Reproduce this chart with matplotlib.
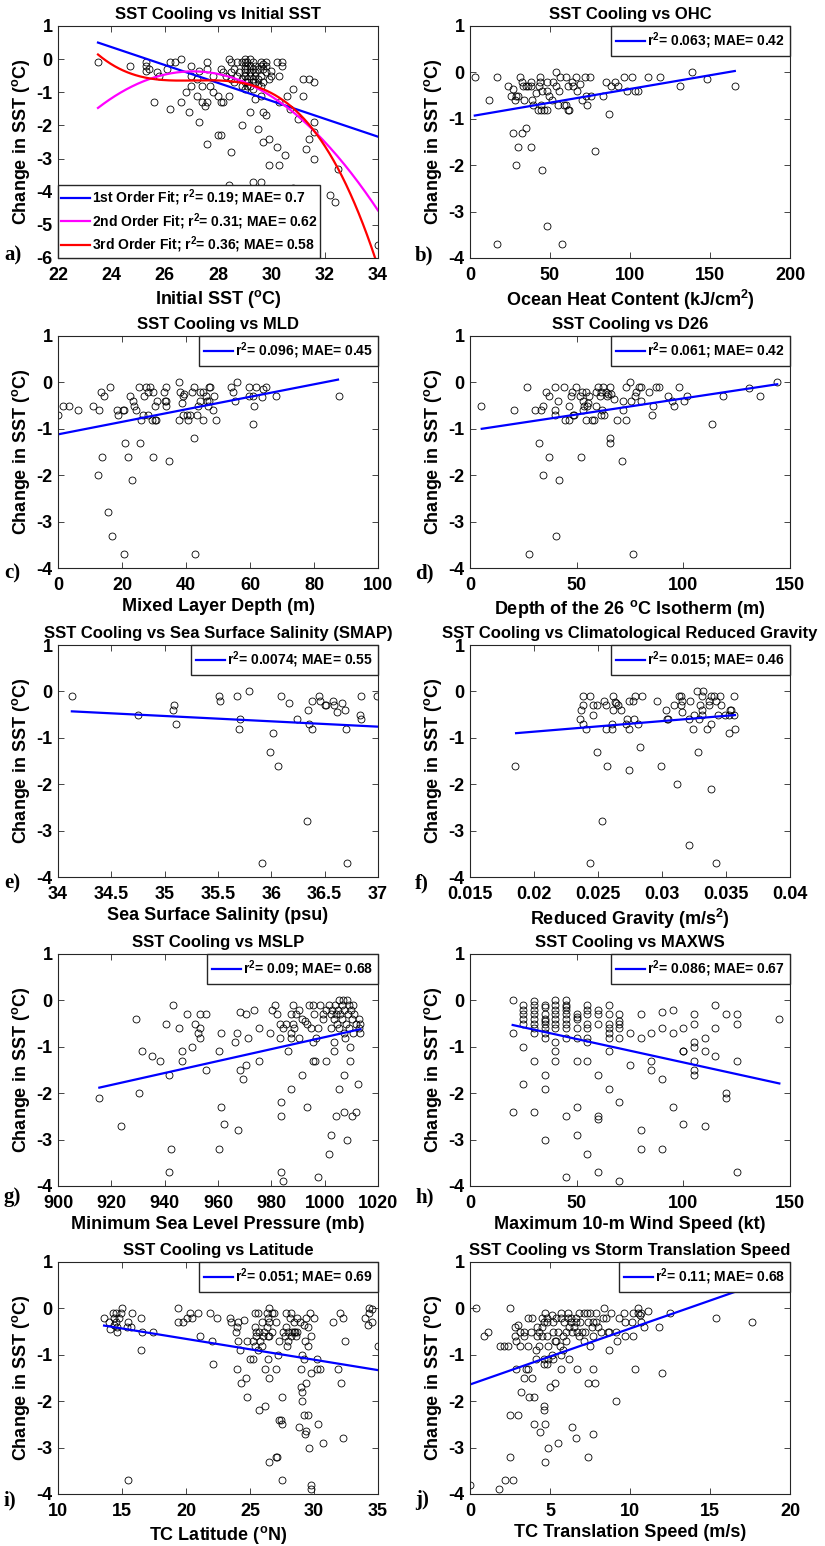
import numpy as np
import matplotlib
matplotlib.use('Agg')
import matplotlib.pyplot as plt
from matplotlib.ticker import StrMethodFormatter

plt.rcParams['font.family'] = 'Liberation Sans'
plt.rcParams['font.weight'] = 'bold'
plt.rcParams['axes.unicode_minus'] = False
plt.rcParams['mathtext.fontset'] = 'custom'
plt.rcParams['mathtext.rm'] = 'Liberation Sans:bold'
plt.rcParams['mathtext.bf'] = 'Liberation Sans:bold'
plt.rcParams['mathtext.default'] = 'bf'

# ---------------- data ----------------
# a) initial SST
a_x = [23.5, 24.7, 25.3, 25.3, 25.3, 25.4, 25.6, 25.7, 25.8, 26.1, 26.2, 26.2, 26.4, 26.6, 26.6, 26.8, 26.9,
       27.0, 27.0, 27.0, 27.2, 27.2, 27.3, 27.3, 27.4, 27.4, 27.5, 27.6, 27.6, 27.6, 27.6, 27.7, 27.8, 27.8,
       28.0, 28.0, 28.1, 28.1, 28.1, 28.2, 28.3, 28.4, 28.4, 28.4, 28.5, 28.5, 28.5, 28.6, 28.7, 28.9, 29.0,
       29.0, 29.0, 29.2, 29.3, 29.4, 29.5, 29.6, 29.6, 29.7, 29.7, 29.8, 29.9, 29.9, 30.0, 30.2, 30.2, 30.3,
       30.3, 30.3, 30.4, 30.4, 30.5, 30.6, 30.7, 30.8, 30.8, 31.0, 31.2, 31.2, 31.3, 31.4, 31.4, 31.6, 31.6,
       31.6, 31.6, 32.2, 32.4, 32.5, 34.0,
       28.2, 28.5, 28.6, 28.7, 28.8, 28.9, 28.9, 29.0, 29.0, 29.0, 29.0, 29.0, 29.1, 29.1, 29.1, 29.1, 29.2,
       29.2, 29.2, 29.2, 29.2, 29.3, 29.3, 29.3, 29.3, 29.3, 29.4, 29.4, 29.4, 29.4, 29.5, 29.5, 29.5, 29.6,
       29.6, 29.6, 29.6, 29.7, 29.7, 29.8, 29.8, 29.9, 29.8, 30.0, 29.7, 28.9, 29.1]
a_y = [-0.1, -0.2, -0.1, -0.2, -0.35, -0.3, -1.3, -0.4, -0.5, -0.3, -1.5, -0.1, -0.1, -1.3, 0.0, -1.0, -1.6,
       -0.5, -0.2, -0.8, -1.1, -0.6, -1.9, -0.35, -0.8, -1.3, -1.4, -2.55, -0.1, -0.3, -1.3, -0.8, -1.0, -0.5,
       -1.1, -2.3, -2.3, -1.3, -0.3, -1.3, -0.5, -3.8, -1.1, 0.0, -0.1, -2.8, -0.6, -0.7, -0.1, -2.0, -0.7,
       -0.1, 0.0, -1.6, -3.7, -1.2, -2.1, -3.7, -1.1, -2.5, -1.6, -1.7, -2.4, -3.2, -0.35, -0.1, -2.65, -0.5,
       -1.3, -3.2, -0.1, -0.2, -2.9, -1.1, -1.5, -0.9, -3.9, -1.8, -0.6, -1.1, -2.7, -2.4, -0.6, -0.7, -1.9,
       -2.2, -3.0, -4.1, -4.3, -3.3, -5.6,
       -0.4, -0.4, -0.3, -0.5, -0.4, -0.6, -0.8, -0.2, -0.3, -0.4, -0.5, -0.9, -0.1, -0.3, -0.6, -0.7, 0.0,
       -0.2, -0.4, -0.5, -0.8, -0.1, -0.3, -0.6, -0.7, -0.9, -0.2, -0.4, -0.5, -0.7, -0.3, -0.6, -0.75, -0.1,
       -0.2, -0.5, -0.8, -0.3, -0.7, -0.1, -0.4, -0.6, -0.2, -0.5, -0.15, -0.1, -0.8]
a_lin_x = [23.5, 34.0]
a_lin_y = [0.5, -2.34]
a_quad_x = [23.5, 25.0, 27.0, 29.0, 31.0, 32.5, 34.0]
a_quad_y = [-1.45, -0.75, -0.44, -0.62, -1.7, -3.0, -4.55]
a_cub_x = [23.5, 24.8, 25.7, 27.3, 28.6, 29.6, 30.3, 31.1, 31.8, 32.6, 33.3, 33.9]
a_cub_y = [0.17, -0.5, -0.62, -0.65, -0.67, -0.8, -1.13, -1.74, -2.45, -3.46, -4.68, -6.0]

# b) OHC
b_x = [3, 12, 17, 17, 23.5, 25.5, 26.6, 27, 28, 29, 29, 30, 30, 31, 32.5, 32.5, 33, 34, 35, 35, 36, 38, 38,
       38, 39, 39.5, 41, 42.5, 43, 43.5, 44, 44.5, 44.5, 45, 45, 46.5, 48, 48, 48, 48, 49.5, 51, 52, 53.5,
       54, 55, 55.5, 56.5, 57.5, 59, 60, 60, 61, 61.5, 62, 63.5, 64.5, 66, 67, 69, 70, 72, 72.5, 73, 75,
       75.5, 78, 83, 85, 87, 88, 90.5, 92.5, 96, 98, 101, 103, 105, 111, 119, 131, 139, 148, 165.5]
b_y = [-0.1, -0.6, -0.1, -3.7, -0.3, -0.5, -0.35, -1.3, -0.6, -0.5, -2.0, -1.6, -0.5, -0.1, -0.2, -1.3,
       -0.3, -0.6, -1.2, -0.3, -0.3, -0.2, -0.3, -1.6, -0.6, -0.7, -0.45, -0.8, -0.3, -0.2, -0.1, -0.7,
       -0.8, -2.1, -0.4, -0.8, -0.8, -0.2, -0.4, -3.3, -0.5, -0.6, -0.2, 0.0, -0.3, -0.7, -0.4, -0.1, -3.7,
       -0.7, -0.1, -0.7, -0.3, -0.8, -0.8, -0.2, -0.3, -0.1, -0.4, -0.25, -0.6, -0.1, -0.5, -0.7, -0.1,
       -0.5, -1.7, -0.5, -0.2, -0.9, -0.3, -0.2, -0.3, -0.1, -0.4, -0.1, -0.4, -0.4, -0.1, -0.1, -0.3, 0.0,
       -0.15, -0.3]
b_fit_x = [3, 165.5]
b_fit_y = [-0.93, 0.03]

# c) MLD
c_x = [0, 1.6, 3.5, 6.4, 10.8, 12.5, 12.9, 13.4, 13.8, 14.4, 15.5, 16.4, 16.9, 18.5, 18.8, 20.2, 20.5,
       20.6, 20.8, 21.8, 22.5, 23.2, 23.4, 23.8, 24.3, 25.4, 25.5, 25.9, 26.5, 27.0, 27.5, 28, 28, 28.6,
       29.3, 29.6, 29.8, 30.2, 30.4, 30.7, 30.9, 33, 33.3, 33.7, 33.8, 33.8, 34.8, 37.8, 37.9, 38, 38.6,
       39, 39, 39.5, 40.3, 40.5, 41.4, 41.9, 42.4, 42.5, 42.9, 43.4, 43.9, 44.3, 44.5, 45.2, 45.3, 46.3,
       46.6, 46.8, 47.1, 47.3, 47.6, 48.5, 48.8, 49.3, 54.1, 54.6, 55.3, 55.8, 59.8, 59.8, 60.8, 61, 61.3,
       62, 63.9, 64.2, 65.1, 68, 87.7]
c_y = [-0.7, -0.5, -0.5, -0.6, -0.5, -2.0, -0.6, -0.2, -1.6, -0.3, -2.8, -0.1, -3.3, -0.6, -0.7, -0.6,
       -3.7, -0.6, -1.3, -1.6, -0.3, -2.1, -0.4, -0.5, -0.6, -0.1, -1.3, -0.8, -0.7, -0.3, -0.1, -0.2, -0.7,
       -0.1, -0.8, -0.2, -1.6, -0.8, -0.5, -0.8, -0.4, -0.2, -0.4, -0.5, -0.4, -0.1, -1.7, 0.0, -0.8, -0.2,
       -0.45, -0.7, -0.3, -0.25, -0.7, -0.8, -0.7, -0.2, -0.1, -1.2, -3.7, -0.7, -0.5, -0.4, -0.2, -0.8,
       -0.2, -0.3, -0.4, -0.5, -0.1, -0.4, -0.1, -0.6, -0.3, -0.8, -0.1, -0.2, -0.4, 0.0, -0.1, -0.3, -0.9,
       -0.3, -0.5, -0.1, -0.32, -0.15, -0.1, -0.3, -0.3]
c_fit_x = [0, 87.5]
c_fit_y = [-1.12, 0.06]

# d) D26
d_x = [5.2, 20.4, 26.7, 27.8, 30.6, 32.2, 33.4, 34, 34.2, 35.8, 36.9, 37.2, 39.7, 39.7, 40, 40.4, 41.3,
       41.9, 43.9, 44.3, 46.3, 46.6, 47.4, 47.9, 48.2, 48.7, 49.5, 51.5, 52.1, 52.3, 52.9, 53.1, 53.4, 54.2,
       54.5, 54.9, 55.3, 55.7, 57, 58.1, 58.9, 59.2, 60, 60.9, 61.4, 61.5, 62, 62.5, 62.8, 63.6, 64.2, 64.7,
       65.5, 65.5, 65.5, 65.9, 67.5, 69.1, 71.1, 71.7, 71.9, 73, 73, 75, 75.4, 76.5, 77.4, 78, 79.3, 80, 80,
       83.7, 85.2, 85.9, 87.1, 88.7, 92.9, 94.9, 95.4, 98.1, 100.5, 101.6, 113.5, 118.8, 130.8, 135.8, 144.1]
d_y = [-0.5, -0.6, -0.1, -3.7, -0.6, -1.3, -0.6, -2.0, -0.5, -0.2, -1.6, -0.3, -0.1, -0.6, -0.7, -3.3,
       -0.4, -2.1, -0.1, -0.8, -0.8, -0.5, -0.3, -0.2, -0.7, -0.7, -0.1, -0.3, -1.6, -0.2, -0.6, -0.4, -0.5,
       -0.8, -0.2, -0.5, -0.45, -0.3, -0.8, -0.8, -0.5, -0.2, -0.1, -0.3, -0.2, -0.7, -0.6, -0.1, -0.7, -0.2,
       -0.3, -0.25, -0.1, -1.2, -1.3, -0.25, -0.35, -0.8, -1.7, -0.6, -0.4, -0.1, -0.8, 0.0, -0.4, -3.7,
       -0.3, -0.2, -0.1, -0.1, -0.4, -0.2, -0.7, -0.5, -0.1, -0.1, -0.3, -0.4, -0.5, -0.1, -0.4, -0.3, -0.9,
       -0.3, -0.13, -0.3, 0.0]
d_fit_x = [5.5, 144]
d_fit_y = [-1.0, -0.04]

# e) SMAP salinity
e_x = [34.13, 34.75, 35.08, 35.09, 35.11, 35.51, 35.52, 35.68, 35.70, 35.71, 35.79, 35.91, 35.99, 36.02,
       36.06, 36.09, 36.17, 36.24, 36.33, 36.34, 36.35, 36.38, 36.38, 36.45, 36.46, 36.50, 36.51, 36.58,
       36.59, 36.62, 36.66, 36.69, 36.70, 36.71, 36.84, 36.83, 36.84, 36.99]
e_y = [-0.1, -0.5, -0.4, -0.3, -0.7, -0.1, -0.2, -0.1, -0.8, -0.6, 0.0, -3.7, -1.3, -0.9, -1.6, -0.1,
       -0.25, -0.6, -2.8, -0.4, -0.7, -0.8, -0.2, -0.1, -0.2, -0.3, -0.3, -0.2, -0.3, -0.45, -0.25, -0.4,
       -0.8, -3.7, -0.1, -0.5, -0.6, -0.1]
e_fit_x = [34.13, 37.0]
e_fit_y = [-0.43, -0.76]

# f) reduced gravity
f_x = [0.0185, 0.0236, 0.0237, 0.0238, 0.0238, 0.0238, 0.0241, 0.0244, 0.0244, 0.0246, 0.0246, 0.0249,
       0.0249, 0.0253, 0.0255, 0.0256, 0.0256, 0.0257, 0.0261, 0.0261, 0.0262, 0.0262, 0.0263, 0.0264,
       0.0266, 0.0268, 0.0272, 0.0273, 0.0274, 0.0274, 0.0274, 0.0277, 0.0278, 0.0279, 0.0281, 0.0283,
       0.0284, 0.0296, 0.0299, 0.0303, 0.0304, 0.0305, 0.0309, 0.0312, 0.0313, 0.0315, 0.0315, 0.0316,
       0.0316, 0.0321, 0.0321, 0.0322, 0.0324, 0.0325, 0.0327, 0.0328, 0.0329, 0.0330, 0.0331, 0.0331,
       0.0332, 0.0331, 0.0335, 0.0337, 0.0337, 0.0338, 0.0338, 0.0338, 0.0341, 0.0342, 0.0342, 0.0344,
       0.0345, 0.0346, 0.0349, 0.0352, 0.0352, 0.0353, 0.0354, 0.0356, 0.0356, 0.0357]
f_y = [-1.6, -0.6, -0.4, -0.1, -0.3, -0.7, -0.8, -0.1, -3.7, -0.5, -0.3, -1.3, -0.3, -2.8, -0.2, -0.3,
       -0.8, -1.6, -0.8, -0.7, -0.1, -0.4, -0.22, -0.25, -0.3, -0.4, -0.7, -0.6, -0.2, -1.7, -0.8, -0.2,
       -0.6, -0.1, -0.7, -1.2, -0.1, -0.2, -1.6, -0.4, -0.6, -0.6, -0.3, -2.0, -0.1, -0.1, -0.3, -0.45,
       -0.2, -0.6, -3.3, -0.2, -0.8, -0.5, 0.0, -1.3, -0.6, -0.3, -0.1, -0.4, 0.0, -0.5, -0.8, -0.2, -0.3,
       -0.1, -2.1, -0.7, -0.1, -3.7, -0.2, -0.5, -0.1, -0.3, -0.5, -0.9, -0.5, -0.4, -0.4, -0.5, -0.1, -0.8]
f_fit_x = [0.0186, 0.0357]
f_fit_y = [-0.9, -0.51]

# g) MSLP
g_x = [915.5, 923.5, 929.3, 930.3, 931.4, 935.4, 938.3, 940.5, 941.5, 941.5, 942.5, 943.3, 945.4, 946.4,
       946.4, 948.4, 950.4, 951.3, 952.4, 953.1, 953.4, 953.4, 955.4, 955.4, 960.3, 960.3, 961.3, 961.3,
       962.4, 966.3, 967.3, 967.5, 968.3, 968.3, 969.3, 970.4, 970.4, 971.4, 973.5, 975.4, 975.4, 979.4,
       980.4, 981.4, 982.3, 983.3, 983.3, 983.5, 983.5, 983.5, 984.4, 984.5, 985.4, 986.3, 987.3, 987.3,
       987.3, 987.3, 988.3, 988.3, 988.6, 989.4, 990.4, 990.4, 991.5, 991.5, 992.6, 993.3, 993.3, 994.2,
       994.9, 995.5, 995.5, 995.5, 996.1, 996.5, 996.7, 997.4, 997.6, 998.4, 999.2, 999.5, 1000.5, 1000.5,
       1001.5, 1001.8, 1002.4, 1002.4, 1002.4, 1002.8, 1003.4, 1003.4, 1003.6, 1004.0, 1004.3, 1004.3,
       1004.6, 1004.9, 1005.2, 1005.5, 1005.5, 1005.9, 1006.4, 1006.4, 1006.8, 1007.2, 1007.4, 1007.4,
       1007.4, 1007.7, 1008.0, 1008.4, 1008.4, 1008.7, 1009.0, 1009.3, 1009.4, 1009.5, 1009.9, 1010.2,
       1010.3, 1010.6, 1010.6, 1010.9, 1011.6, 1011.8, 1012.4, 1012.7, 1013.0, 1013.4, 1013.4]
g_y = [-2.1, -2.7, -0.4, -2.0, -1.1, -1.2, -1.3, -0.5, -1.6, -3.7, -3.2, -0.1, -0.6, -1.1, -1.3, -0.3,
       -1.0, -0.5, -0.7, -0.3, -0.6, -0.8, -1.5, -0.3, -1.08, -3.2, -0.7, -2.3, -2.67, -0.9, -0.7, -2.8,
       -1.5, -0.24, -1.7, -0.3, -1.4, -0.8, -0.2, -0.6, -1.3, -0.7, -0.2, -0.1, -0.3, -0.5, -0.8, -2.2,
       -2.5, -3.7, -3.9, -0.6, -0.5, -1.1, -0.3, -0.7, -0.8, -1.9, -0.1, -0.5, -0.6, -0.3, -0.2, -0.8,
       -1.6, -0.4, -0.45, -2.3, -0.5, -0.1, -0.6, -0.9, -1.3, -0.1, -0.3, -1.3, -0.8, -3.8, -0.6, -0.1,
       -0.3, -0.4, -0.2, -1.3, -3.3, -0.1, -0.6, -0.3, -2.9, -0.2, -1.08, -0.9, -0.4, -0.1, -2.5, -0.3,
       -0.5, -0.2, -0.6, -1.9, 0.0, -0.3, -0.1, -0.4, 0.0, -0.7, -1.6, -2.4, -0.2, -0.8, -0.5, 0.0, -3.0,
       -0.3, -0.1, -0.6, -1.0, -1.3, -0.2, -0.4, -2.5, -0.7, -0.1, -0.3, -2.4, -0.5, -1.8, -0.4, -0.6,
       -0.7, -0.5]
g_fit_x = [915.5, 1013.4]
g_fit_y = [-1.88, -0.62]

# h) max wind speed
h_x = [20, 20, 20,
       25, 25, 25, 25, 25, 25, 25,
       30, 30, 30, 30, 30, 30, 30, 30, 30, 30,
       35, 35, 35, 35, 35, 35, 35, 35, 35, 35, 35, 35,
       40, 40, 40, 40, 40, 40, 40, 40, 40, 40,
       45, 45, 45, 45, 45, 45, 45, 45, 45, 45, 45,
       50, 50, 50, 50, 50, 50, 50, 50,
       55, 55, 55, 55, 55, 55, 55, 55, 55,
       60, 60, 60, 60, 60, 60, 60,
       65, 65, 65, 65, 65, 65, 65, 65,
       70, 70, 70, 70, 70, 70, 70,
       75, 75, 80, 80, 80, 80, 85, 85, 85, 90, 90, 90, 90, 95, 95, 95,
       100, 100, 100, 100, 105, 105, 105, 105, 105, 105, 105, 110, 110, 110,
       115, 115, 115, 120, 120, 120, 125, 125, 125, 125, 145]
h_y = [0.0, -0.7, -2.4,
       -0.1, -0.2, -0.3, -0.4, -0.5, -1.0, -1.8,
       -0.02, -0.1, -0.2, -0.3, -0.4, -0.5, -0.6, -0.7, -1.3, -2.4,
       -0.1, -0.15, -0.3, -0.4, -0.45, -0.5, -0.6, -0.7, -0.8, -1.6, -1.9, -3.0,
       0.0, -0.1, -0.2, -0.3, -0.4, -0.5, -0.6, -0.9, -1.1, -1.3,
       0.0, -0.1, -0.15, -0.2, -0.3, -0.4, -0.5, -0.6, -0.8, -2.5, -3.8,
       -0.3, -0.35, -0.4, -0.6, -0.8, -1.3, -2.3, -2.9,
       -0.1, -0.2, -0.3, -0.5, -0.6, -0.8, -0.9, -1.3, -3.3,
       -0.2, -0.3, -0.5, -1.6, -2.5, -2.55, -3.7,
       -0.1, -0.3, -0.5, -0.6, -0.7, -0.8, -1.1, -1.9,
       -0.3, -0.45, -0.5, -0.6, -0.8, -2.2, -3.9,
       -0.7, -1.4, -0.3, -0.8, -2.8, -3.2, -0.7, -1.3, -1.5, -0.25, -0.6, -1.7, -3.2, -0.2, -0.7, -2.3,
       -0.6, -1.1, -1.1, -2.67, -0.3, -0.5, -0.9, -1.0, -1.3, -1.5, -1.6, -0.8, -1.1, -2.7,
       -0.1, -0.6, -1.2, -0.3, -2.0, -2.1, -0.3, -0.5, -1.3, -3.7, -0.4]
h_fit_x = [20, 145]
h_fit_y = [-0.53, -1.79]

# i) latitude
i_x = [13.6, 14.0, 14.1, 14.3, 14.4, 14.4, 14.5, 14.5, 14.6, 14.6,
       14.8, 14.9, 15.0, 15.4, 15.5, 15.5, 15.7, 15.8, 16.5, 16.5,
       16.6, 17.4, 19.4, 19.4, 19.8, 20.1, 20.3, 20.5, 20.9, 21.1,
       21.9, 22.0, 22.1, 22.4, 23.4, 23.5, 23.9, 24.0, 24.0, 24.1,
       24.1, 24.2, 24.3, 24.5, 24.7, 24.8, 24.8, 25.0, 25.2, 25.2,
       25.4, 25.4, 25.4, 25.5, 25.5, 25.6, 25.6, 25.7, 25.7, 25.8,
       25.9, 25.9, 26.0, 26.1, 26.2, 26.2, 26.3, 26.3, 26.4, 26.4,
       26.4, 26.5, 26.5, 26.5, 26.5, 26.5, 26.7, 26.7, 26.9, 27.0,
       27.0, 27.0, 27.1, 27.2, 27.3, 27.3, 27.4, 27.5, 27.5, 27.5,
       27.6, 27.7, 27.8, 27.8, 27.9, 28.0, 28.0, 28.1, 28.2, 28.2,
       28.3, 28.4, 28.4, 28.5, 28.6, 28.7, 28.7, 28.8, 28.9, 29.0,
       29.0, 29.1, 29.1, 29.1, 29.2, 29.2, 29.2, 29.3, 29.3, 29.4,
       29.4, 29.4, 29.5, 29.5, 29.5, 29.6, 29.7, 29.8, 29.8, 29.8,
       29.8, 30.0, 30.2, 30.2, 30.3, 30.5, 30.7, 31.5, 31.9, 32.0,
       32.1, 32.3, 32.3, 32.4, 34.0, 34.2, 34.3, 34.3, 34.5, 34.5,
       35.0]
i_y = [-0.2, -0.3, -0.45, -0.1, -0.2, -0.35, -0.1, -0.3, -0.5, -0.4,
       -0.2, -0.1, 0.0, -0.4, -3.7, -0.3, -0.4, -0.1, -0.9, -0.2,
       -0.5, -0.5, 0.0, -0.3, -0.3, -0.2, -0.1, -0.2, -0.1, -0.6,
       -0.1, -0.7, -1.2, -0.2, -0.2, -0.3, -0.5, -0.4, -1.3, -0.3,
       -0.7, -0.9, -1.6, -0.25, -1.5, -1.9, -0.7, -1.1, -0.7, -1.1,
       -0.8, -0.4, -0.1, -0.5, -0.6, -0.9, -0.1, -2.2, -0.5, -0.7,
       -0.3, -0.8, -0.6, -0.5, -1.3, -2.1, -0.1, -0.4, -0.6, -1.1,
       -0.2, -3.3, 0.0, -0.6, -0.3, -1.5, -0.1, -0.5, -0.1, -0.3,
       -1.3, -3.2, -3.2, -1.0, -2.4, -0.7, -2.4, -1.9, -3.7, -2.5,
       -0.5, -0.6, -0.1, -0.4, -0.8, -0.5, -0.7, -0.2, -0.6, -0.1,
       -0.5, -0.3, -0.5, -0.5, -0.6, -0.5, -0.2, -2.55, -0.3, -1.7,
       -1.3, -1.0, -1.8, -2.0, -0.35, -2.3, -1.1, -0.7, -2.7, -1.6,
       -0.2, -2.65, -0.4, -0.8, -2.3, -3.0, -0.1, -3.8, -3.9, -1.4,
       -0.6, -0.2, -1.3, -1.1, -2.5, -1.3, -2.9, -0.3, -1.3, -0.1,
       -1.6, -0.2, -2.8, -0.7, -0.2, -0.35, 0.0, -0.1, -0.3, -0.02,
       -0.8]
i_fit_x = [13.6, 35.0]
i_fit_y = [-0.37, -1.33]

# j) translation speed
j_x = [0.0, 0.4, 0.9, 1.1, 1.8, 1.9, 2.1, 2.2, 2.4, 2.5,
       2.5, 2.5, 2.7, 2.8, 2.8, 2.9, 2.9, 3.0, 3.0, 3.1,
       3.1, 3.2, 3.4, 3.4, 3.4, 3.5, 3.6, 3.6, 3.6, 3.7,
       3.8, 3.9, 3.9, 4.0, 4.0, 4.1, 4.1, 4.2, 4.2, 4.3,
       4.3, 4.4, 4.5, 4.5, 4.5, 4.6, 4.6, 4.6, 4.6, 4.6,
       4.7, 4.7, 4.7, 4.8, 4.8, 4.8, 4.8, 4.9, 4.9, 4.9,
       5.0, 5.1, 5.1, 5.2, 5.2, 5.2, 5.3, 5.3, 5.4, 5.4,
       5.5, 5.5, 5.6, 5.7, 5.7, 5.7, 5.7, 5.8, 5.8, 5.9,
       6.0, 6.0, 6.1, 6.1, 6.2, 6.2, 6.3, 6.3, 6.4, 6.4,
       6.5, 6.6, 6.6, 6.6, 6.7, 6.7, 6.8, 6.8, 6.9, 7.0,
       7.1, 7.1, 7.2, 7.3, 7.4, 7.4, 7.4, 7.5, 7.5, 7.6,
       7.7, 7.7, 7.7, 7.7, 7.8, 7.9, 7.9, 8.0, 8.2, 8.3,
       8.4, 8.5, 8.6, 8.7, 8.7, 8.8, 9.1, 9.1, 9.2, 9.3,
       9.6, 9.7, 9.7, 10.1, 10.2, 10.2, 10.3, 10.5, 10.5, 10.6,
       10.7, 10.7, 10.9, 11.1, 11.8, 12.0, 12.5, 15.4, 17.6]
j_y = [-3.8, 0.0, -0.6, -0.5, -3.9, -0.8, -0.8, -3.7, -0.8, -3.2,
       -2.3, 0.0, -3.7, -0.4, -0.6, -1.3, -0.7, -0.35, -2.3, -0.5,
       -0.8, -1.8, -0.6, -0.5, -1.5, -1.3, -1.3, -0.8, -0.2, -1.9,
       -0.5, -0.2, -1.5, -2.5, -1.9, -1.1, -0.9, -0.4, -0.6, -0.8,
       -0.5, -2.67, -0.6, -0.4, -0.2, -2.2, -1.2, -2.1, -0.3, -1.1,
       -0.1, -2.5, -3.3, -1.2, -0.2, -0.3, -0.6, -1.1, -3.0, -0.8,
       -1.7, -1.0, -0.15, -0.3, -0.5, -1.1, -0.7, -1.6, -0.2, -0.7,
       -2.9, -0.5, -0.8, -0.1, -1.3, -1.0, -0.2, -0.6, -0.9, -0.3,
       -0.7, -0.5, -0.2, -0.1, -0.4, -1.1, -0.3, -0.2, -2.55, -0.5,
       -0.4, -0.2, -2.8, -0.3, -0.5, -1.3, -0.1, -0.6, -0.3, -0.5,
       -0.1, -0.7, -0.5, -0.1, -0.3, -1.6, -3.2, -0.8, -0.1, -0.4,
       -0.6, -0.3, -1.3, -2.7, -1.6, -0.3, -0.1, -0.4, -0.5, -0.2,
       0.0, -0.2, -0.5, -0.9, -0.5, -0.1, -0.5, -2.0, -0.7, -0.2,
       -0.1, -0.3, -0.6, -0.3, -0.1, -0.6, -1.3, 0.0, -0.1, -0.15,
       -0.1, -0.3, -0.4, -0.05, -0.4, -1.4, -0.1, -0.2, -0.3]
j_fit_x = [0.0, 17.5]
j_fit_y = [-1.64, 0.47]

# ---------------- drawing ----------------
fig = plt.figure(figsize=(8.25, 15.46), dpi=100)

col_left = [58 / 825, 470 / 825]
ax_w = 320 / 825
row_top_px = [26, 336, 645, 954, 1262]
ax_h_px = 232
label_y_px = [255, 573, 883, 1197, 1500]
tick_col = '#262626'

ylab = 'Change in SST ($^{o}$C)'


def make_axes(row, col):
    bottom = 1 - (row_top_px[row] + ax_h_px) / 1546
    ax = fig.add_axes([col_left[col], bottom, ax_w, ax_h_px / 1546])
    for sp in ax.spines.values():
        sp.set_color(tick_col)
        sp.set_linewidth(0.8)
    ax.tick_params(direction='in', top=True, right=True, length=4, width=0.6,
                   labelsize=13, colors=tick_col, labelcolor='black')
    ax.tick_params(axis='x', pad=6.5)
    ax.tick_params(axis='y', pad=4)
    return ax


def panel(row, col, letter, x, y, fx, fy, title, xlabel, xlim, xticks, legend_text, ylim=(-4, 1)):
    ax = make_axes(row, col)
    ax.plot(x, y, 'o', mfc='none', mec='black', ms=5, mew=0.6)
    if fx is not None:
        ax.plot(fx, fy, color='#0000ff', lw=1.6, label=legend_text)
        ax.legend(loc='upper right', borderaxespad=0, fancybox=False, framealpha=1,
                  edgecolor=tick_col, handlelength=2.1, handletextpad=0.15, borderpad=0.35,
                  prop=dict(family='Liberation Sans', weight='bold', size=10))
    ax.set_xlim(xlim)
    ax.set_ylim(ylim)
    ax.set_xticks(xticks)
    ax.set_yticks(np.arange(ylim[0], ylim[1] + 1))
    ax.xaxis.set_major_formatter(StrMethodFormatter('{x:g}'))
    ax.set_title(title, fontsize=12, fontweight='bold', pad=5)
    ax.set_xlabel(xlabel, fontsize=13, fontweight='bold', labelpad=3)
    ax.set_ylabel(ylab, fontsize=13, fontweight='bold', labelpad=3)
    lx = 4 / 825 if col == 0 else 415 / 825
    fig.text(lx, 1 - label_y_px[row] / 1546, letter, family='Liberation Serif',
             fontweight='bold', fontsize=15, ha='left', va='center')
    return ax


# a) with three fits
ax_a = panel(0, 0, 'a)', a_x, a_y, None, None, 'SST Cooling vs Initial SST',
             'Initial SST ($^{o}$C)', (22, 34), np.arange(22, 35, 2), None, ylim=(-6, 1))
xx = np.linspace(a_quad_x[0], a_quad_x[-1], 200)
xc = np.linspace(a_cub_x[0], a_cub_x[-1], 200)
ax_a.plot(a_lin_x, a_lin_y, color='#0000ff', lw=1.6,
          label='1st Order Fit; r$^{2}$= 0.19; MAE= 0.7')
ax_a.plot(xx, np.polyval(np.polyfit(a_quad_x, a_quad_y, 2), xx), color='#ff00ff', lw=1.6,
          label='2nd Order Fit; r$^{2}$= 0.31; MAE= 0.62')
ax_a.plot(xc, np.polyval(np.polyfit(a_cub_x, a_cub_y, 3), xc), color='#ff0000', lw=1.6,
          label='3rd Order Fit; r$^{2}$= 0.36; MAE= 0.58')
ax_a.legend(loc='lower left', borderaxespad=0, fancybox=False, framealpha=1,
            edgecolor=tick_col, handlelength=2.1, handletextpad=0.15, borderpad=0.2,
            labelspacing=0.2, prop=dict(family='Liberation Sans', weight='bold', size=10))

panel(0, 1, 'b)', b_x, b_y, b_fit_x, b_fit_y, 'SST Cooling vs OHC',
      'Ocean Heat Content (kJ/cm$^{2}$)', (0, 200), np.arange(0, 201, 50),
      'r$^{2}$= 0.063; MAE= 0.42')
panel(1, 0, 'c)', c_x, c_y, c_fit_x, c_fit_y, 'SST Cooling vs MLD',
      'Mixed Layer Depth (m)', (0, 100), np.arange(0, 101, 20),
      'r$^{2}$= 0.096; MAE= 0.45')
panel(1, 1, 'd)', d_x, d_y, d_fit_x, d_fit_y, 'SST Cooling vs D26',
      'Depth of the 26 $^{o}$C Isotherm (m)', (0, 150), np.arange(0, 151, 50),
      'r$^{2}$= 0.061; MAE= 0.42')
panel(2, 0, 'e)', e_x, e_y, e_fit_x, e_fit_y, 'SST Cooling vs Sea Surface Salinity (SMAP)',
      'Sea Surface Salinity (psu)', (34, 37), np.arange(34, 37.01, 0.5),
      'r$^{2}$= 0.0074; MAE= 0.55')
panel(2, 1, 'f)', f_x, f_y, f_fit_x, f_fit_y, 'SST Cooling vs Climatological Reduced Gravity',
      'Reduced Gravity (m/s$^{2}$)', (0.015, 0.04), [0.015, 0.02, 0.025, 0.03, 0.035, 0.04],
      'r$^{2}$= 0.015; MAE= 0.46')
panel(3, 0, 'g)', g_x, g_y, g_fit_x, g_fit_y, 'SST Cooling vs MSLP',
      'Minimum Sea Level Pressure (mb)', (900, 1020), np.arange(900, 1021, 20),
      'r$^{2}$= 0.09; MAE= 0.68')
panel(3, 1, 'h)', h_x, h_y, h_fit_x, h_fit_y, 'SST Cooling vs MAXWS',
      'Maximum 10-m Wind Speed (kt)', (0, 150), np.arange(0, 151, 50),
      'r$^{2}$= 0.086; MAE= 0.67')
panel(4, 0, 'i)', i_x, i_y, i_fit_x, i_fit_y, 'SST Cooling vs Latitude',
      'TC Latitude ($^{o}$N)', (10, 35), np.arange(10, 36, 5),
      'r$^{2}$= 0.051; MAE= 0.69')
panel(4, 1, 'j)', j_x, j_y, j_fit_x, j_fit_y, 'SST Cooling vs Storm Translation Speed',
      'TC Translation Speed (m/s)', (0, 20), np.arange(0, 21, 5),
      'r$^{2}$= 0.11; MAE= 0.68')

fig.savefig('out.png', dpi=100)
